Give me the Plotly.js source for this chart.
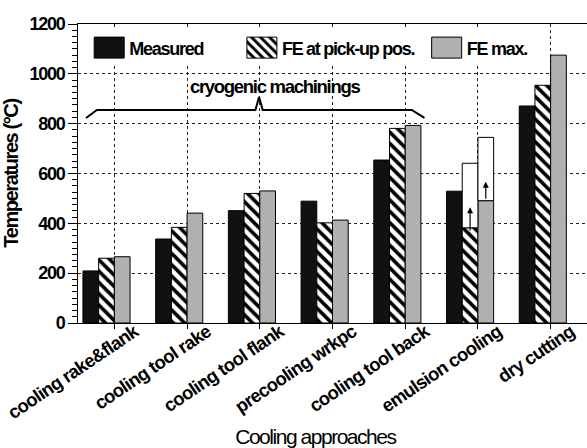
<!DOCTYPE html>
<html>
<head>
<meta charset="utf-8">
<script src="https://cdn.plot.ly/plotly-3.0.1.min.js"></script>
<style>
html,body{margin:0;padding:0;background:#fff;}
#chart{width:587px;height:448px;}
#chart svg text{letter-spacing:-0.07em;}
#chart svg .xtick text{letter-spacing:-0.04em;}
</style>
</head>
<body>
<div id="chart"></div>
<script>
// ---- data ----
var categories = ["cooling rake&flank", "cooling tool rake", "cooling tool flank", "precooling wrkpc", "cooling tool back", "emulsion cooling", "dry cutting"];
var measured = [209, 337, 451, 489, 654, 529, 871];
var fePickup = [260, 384, 520, 402, 781, 382, 954];
var feMax    = [266, 441, 530, 413, 793, 491, 1075];
// emulsion cooling: upper bounds of FE values (outlined boxes)
var emulsionIndex = 5;
var fePickupUpper = 641;
var feMaxUpper = 745;
// arrows inside emulsion bars: [tail, head]
var arrowPickup = [365, 465];
var arrowMax = [493, 567];
// cryogenic brace
var braceX = [-0.39, -0.24, 1.94, 1.99, 2.04, 4.09, 4.265];
var braceY = [823, 855, 855, 907, 855, 855, 823];
var braceLabel = "cryogenic machinings";
var yTicks = [0, 200, 400, 600, 800, 1000, 1200];

// ---- styling ----
var FONT = "Liberation Sans, Arial, sans-serif";
var W = 0.216;
var offM = -2 * W, offP = -W, offX = 0;
var idx = categories.map(function (c, i) { return i; });

var traces = [
  {type: "bar", name: "Measured", x: idx, y: measured, width: W, offset: offM,
   marker: {color: "#111", line: {color: "#000", width: 1}}, legend: "legend", hoverinfo: "y"},
  {type: "bar", name: "FE at pick-up pos.", x: idx, y: fePickup, width: W, offset: offP,
   marker: {color: "#fff", line: {color: "#000", width: 1},
            pattern: {shape: "\\", size: 8, solidity: 0.45, fgcolor: "#000", bgcolor: "#fff", fillmode: "replace"}},
   legend: "legend2", hoverinfo: "y"},
  {type: "bar", name: "FE max.", x: idx, y: feMax, width: W, offset: offX,
   marker: {color: "#b0b0b0", line: {color: "#000", width: 1}}, legend: "legend3", hoverinfo: "y"},
  {type: "bar", x: [emulsionIndex], base: [fePickup[emulsionIndex]], y: [fePickupUpper - fePickup[emulsionIndex]],
   width: W, offset: offP, marker: {color: "#fff", line: {color: "#000", width: 1}}, showlegend: false, hoverinfo: "skip"},
  {type: "bar", x: [emulsionIndex], base: [feMax[emulsionIndex]], y: [feMaxUpper - feMax[emulsionIndex]],
   width: W, offset: offX, marker: {color: "#fff", line: {color: "#000", width: 1}}, showlegend: false, hoverinfo: "skip"},
  {type: "scatter", mode: "lines", x: braceX, y: braceY, line: {color: "#000", width: 2},
   showlegend: false, hoverinfo: "skip"}
];

function legendCfg(x) {
  return {x: x, y: 0.92, xanchor: "left", yanchor: "middle", orientation: "h",
          bgcolor: "#fff", borderwidth: 0, font: {family: FONT, size: 18, color: "#000", weight: "bold"}};
}

var layout = {
  width: 587, height: 448,
  margin: {l: 78, r: 0, t: 24, b: 125},
  paper_bgcolor: "#fff", plot_bgcolor: "#fff",
  barmode: "overlay",
  font: {family: FONT, color: "#000"},
  xaxis: {
    range: [-0.5, 6.5], tickmode: "array", tickvals: idx, ticktext: categories,
    tickangle: -34, ticks: "outside", ticklen: 5, tickcolor: "#000",
    ticklabelshift: 20, ticklabelstandoff: -15, ticklabeloverflow: "allow",
    showgrid: true, gridcolor: "#222", griddash: "dot", gridwidth: 1,
    showline: true, linecolor: "#000", linewidth: 1, mirror: true,
    zeroline: false, automargin: false,
    tickfont: {family: FONT, size: 18.5, color: "#000", weight: "bold"}
  },
  yaxis: {
    range: [0, 1200], tickmode: "array", tickvals: yTicks,
    ticks: "outside", ticklen: 9, tickcolor: "#000",
    minor: {dtick: 25, ticks: "outside", ticklen: 5, tickcolor: "#000", showgrid: false},
    showgrid: true, gridcolor: "#222", griddash: "dot", gridwidth: 1,
    showline: true, linecolor: "#000", linewidth: 1, mirror: true,
    zeroline: false, automargin: false,
    tickfont: {family: FONT, size: 18, color: "#000", weight: "bold"},
    title: {text: "Temperatures (°C)", standoff: 0, font: {family: FONT, size: 20, color: "#000", weight: "bold"}}
  },
  legend: legendCfg(0.022),
  legend2: legendCfg(0.322),
  legend3: legendCfg(0.685),
  annotations: [
    {x: 2.2, y: 950, xref: "x", yref: "y", text: braceLabel, showarrow: false,
     font: {family: FONT, size: 18.5, color: "#000", weight: "bold"}},
    {x: emulsionIndex + offP + W / 2, y: arrowPickup[1], ax: emulsionIndex + offP + W / 2, ay: arrowPickup[0],
     xref: "x", yref: "y", axref: "x", ayref: "y", text: "", showarrow: true,
     arrowhead: 2, arrowsize: 1, arrowwidth: 1.2, arrowcolor: "#000"},
    {x: emulsionIndex + offX + W / 2, y: arrowMax[1], ax: emulsionIndex + offX + W / 2, ay: arrowMax[0],
     xref: "x", yref: "y", axref: "x", ayref: "y", text: "", showarrow: true,
     arrowhead: 2, arrowsize: 1, arrowwidth: 1.2, arrowcolor: "#000"},
    {x: 0.466, y: -0.381, xref: "paper", yref: "paper", xanchor: "center", yanchor: "middle",
     text: "Cooling approaches", showarrow: false,
     font: {family: FONT, size: 21, color: "#000"}}
  ]
};

Plotly.newPlot("chart", traces, layout, {staticPlot: true}).then(function () {
  document.querySelectorAll(".legendpoints path").forEach(function (p) {
    p.setAttribute("d", "M15,10.5H-15V-10.5H15Z");
  });
});
</script>
</body>
</html>
